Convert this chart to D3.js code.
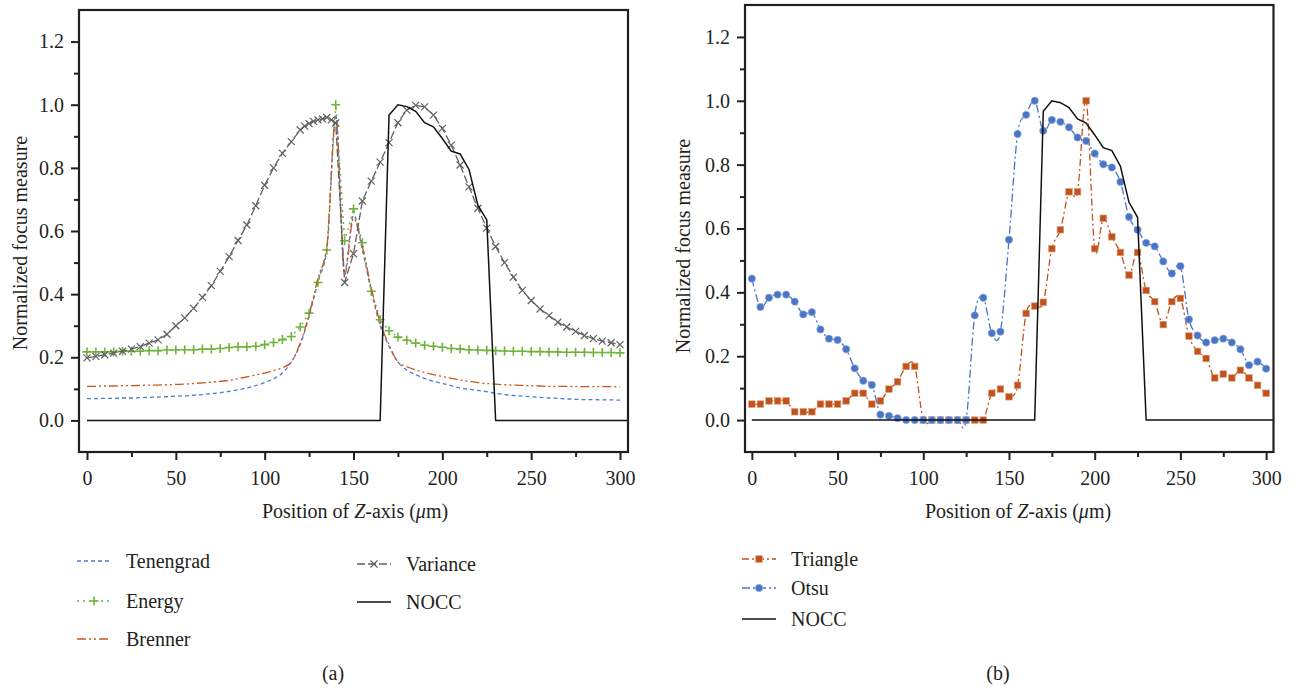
<!DOCTYPE html>
<html>
<head>
<meta charset="utf-8">
<script src="https://cdn.jsdelivr.net/npm/d3@7"></script>
<style>
  body { margin: 0; background: #fff; }
  svg { display: block; font-family: "Liberation Serif", "DejaVu Serif", serif; }
</style>
</head>
<body>
<svg id="viz" width="1295" height="688"></svg>
<script>
const svg = d3.select("#viz");

// sampling positions along the Z axis (um)
const zPos = [0,5,10,15,20,25,30,35,40,45,50,55,60,65,70,75,80,85,90,95,100,
  105,110,115,120,125,130,135,140,145,150,155,160,165,170,175,180,185,190,195,200,
  205,210,215,220,225,230,235,240,245,250,255,260,265,270,275,280,285,290,295,300];

const tenengrad = [0.069,0.069,0.070,0.070,0.071,0.071,0.072,0.073,0.074,0.075,0.077,
  0.078,0.080,0.082,0.085,0.088,0.092,0.097,0.103,0.110,0.120,
  0.132,0.150,0.185,0.240,0.330,0.440,0.540,0.970,0.470,0.650,
  0.540,0.410,0.300,0.235,0.185,0.160,0.145,0.133,0.124,0.117,
  0.110,0.102,0.099,0.095,0.091,0.086,0.082,0.079,0.077,0.075,
  0.073,0.071,0.070,0.068,0.067,0.066,0.066,0.065,0.065,0.064];

const energy = [0.217,0.217,0.217,0.217,0.219,0.219,0.219,0.221,0.221,0.223,0.223,
  0.224,0.224,0.226,0.226,0.228,0.231,0.233,0.233,0.235,0.240,
  0.247,0.256,0.266,0.296,0.340,0.437,0.540,1.000,0.569,0.670,
  0.563,0.409,0.319,0.284,0.264,0.254,0.245,0.238,0.235,0.232,
  0.228,0.226,0.224,0.223,0.222,0.221,0.220,0.219,0.219,0.218,
  0.218,0.217,0.217,0.216,0.216,0.216,0.215,0.215,0.215,0.214];

const brenner = [0.108,0.108,0.109,0.109,0.110,0.110,0.111,0.112,0.112,0.113,0.114,
  0.115,0.117,0.119,0.121,0.124,0.127,0.132,0.138,0.144,0.150,
  0.158,0.167,0.185,0.245,0.335,0.450,0.550,0.960,0.460,0.640,
  0.550,0.420,0.310,0.240,0.185,0.170,0.160,0.152,0.145,0.139,
  0.133,0.128,0.124,0.120,0.117,0.115,0.113,0.112,0.111,0.110,
  0.109,0.108,0.108,0.108,0.107,0.107,0.107,0.107,0.107,0.106];

// variance was sampled more densely near the first peak
const varPos = [0,5,10,15,20,25,30,35,40,45,50,55,60,65,70,75,80,85,90,95,100,
  105,110,115,120,122.5,125,127.5,130,132.5,135,137.5,140,145,150,155,160,165,170,175,180,
  185,190,195,200,205,210,215,220,225,230,235,240,245,250,255,260,265,270,275,280,
  285,290,295,300];
const variance = [0.198,0.203,0.208,0.213,0.219,0.226,0.234,0.245,0.255,0.273,0.300,
  0.325,0.355,0.390,0.427,0.472,0.519,0.570,0.619,0.680,0.745,
  0.800,0.846,0.883,0.920,0.932,0.940,0.947,0.952,0.955,0.960,0.952,0.942,0.437,0.528,
  0.695,0.758,0.818,0.880,0.943,0.983,
  0.998,0.993,0.967,0.925,0.872,0.809,0.740,0.672,0.609,0.551,
  0.500,0.454,0.412,0.380,0.353,0.332,0.311,0.296,0.282,0.269,
  0.259,0.251,0.246,0.240];

const noccPos = [0,5,10,15,20,25,30,35,40,45,50,55,60,65,70,75,80,85,90,95,100,
  105,110,115,120,125,130,135,140,145,150,155,160,165,170,175,180,185,190,195,200,
  205,210,215,220,225,230,235,240,245,250,255,260,265,270,275,280,285,290,295,300,305];
const nocc = [0,0,0,0,0,0,0,0,0,0,0,
  0,0,0,0,0,0,0,0,0,0,
  0,0,0,0,0,0,0,0,0,0,
  0,0,0,0.967,1.000,0.994,0.979,0.943,0.930,0.893,
  0.853,0.844,0.795,0.682,0.635,0,0,0,0,0,
  0,0,0,0,0,0,0,0,0,0,0];

const triangle = [0.050,0.050,0.060,0.060,0.060,0.026,0.026,0.026,0.050,0.050,0.050,
  0.060,0.084,0.084,0.050,0.060,0.097,0.120,0.168,0.168,0,
  0,0,0,0,0,0,0,0.084,0.097,0.073,
  0.109,0.334,0.357,0.369,0.537,0.596,0.715,0.715,1.000,0.537,
  0.632,0.574,0.525,0.454,0.525,0.406,0.371,0.299,0.371,0.381,
  0.263,0.215,0.193,0.132,0.144,0.132,0.156,0.132,0.109,0.084];

const otsu = [0.443,0.354,0.383,0.393,0.393,0.371,0.331,0.338,0.284,0.255,0.251,
  0.222,0.162,0.123,0.110,0.017,0.013,0.006,0,0,0,
  0,0,0,0,0,0.328,0.383,0.272,0.277,0.565,
  0.896,0.956,1.000,0.906,0.940,0.934,0.917,0.885,0.874,0.835,
  0.801,0.791,0.746,0.636,0.596,0.555,0.544,0.497,0.459,0.482,
  0.315,0.265,0.243,0.250,0.255,0.243,0.222,0.172,0.183,0.161];

const xTicks = [0, 50, 100, 150, 200, 250, 300];
const xMinor = [25, 75, 125, 175, 225, 275];
const yTicks = [0.0, 0.2, 0.4, 0.6, 0.8, 1.0, 1.2];
const yMinor = [0.1, 0.3, 0.5, 0.7, 0.9, 1.1];

const ink = "#231f20";

const styles = {
  Tenengrad: { color: "#4c7bd0", dash: "4,3", width: 1.3, curve: d3.curveMonotoneX },
  Energy:    { color: "#6fb43a", dash: "2,4", width: 1.4, curve: d3.curveLinear, marker: "plus" },
  Brenner:   { color: "#cc5520", dash: "9,3,2,3,2,3", width: 1.3, curve: d3.curveMonotoneX },
  Variance:  { color: "#606060", dash: "8,3", width: 1.3, curve: d3.curveLinear, marker: "cross" },
  NOCC:      { color: "#111", dash: null, width: 1.5, curve: d3.curveLinear },
  Triangle:  { color: "#c0531c", dash: "7,3,2,3", width: 1.3, curve: d3.curveCardinal.tension(0), marker: "square" },
  Otsu:      { color: "#4a74c6", dash: "8,3,2,3", width: 1.3, curve: d3.curveCardinal.tension(0), marker: "circle" }
};

function drawMarker(g, kind, color, cx, cy) {
  if (kind === "plus") {
    g.append("path").attr("d", `M${cx - 4.5},${cy}H${cx + 4.5}M${cx},${cy - 4.5}V${cy + 4.5}`)
      .attr("stroke", color).attr("stroke-width", 1.6).attr("fill", "none");
  } else if (kind === "cross") {
    g.append("path").attr("d", `M${cx - 3.5},${cy - 3.5}L${cx + 3.5},${cy + 3.5}M${cx - 3.5},${cy + 3.5}L${cx + 3.5},${cy - 3.5}`)
      .attr("stroke", color).attr("stroke-width", 1.2).attr("fill", "none");
  } else if (kind === "square") {
    g.append("rect").attr("x", cx - 3.3).attr("y", cy - 3.3).attr("width", 6.6).attr("height", 6.6)
      .attr("fill", color).attr("stroke", "#e0a080").attr("stroke-width", 0.6);
  } else if (kind === "circle") {
    g.append("circle").attr("cx", cx).attr("cy", cy).attr("r", 3.7)
      .attr("fill", color).attr("stroke", "#9db3e0").attr("stroke-width", 0.6);
  }
}

function drawPanel(p) {
  const x = d3.scaleLinear().domain(p.xDomain).range([p.left, p.right]);
  const y = d3.scaleLinear().domain([-0.1, 1.3]).range([p.bottom, p.top]);
  const g = svg.append("g");

  g.append("clipPath").attr("id", p.id + "-clip")
    .append("rect").attr("x", p.left).attr("y", p.top)
    .attr("width", p.right - p.left).attr("height", p.bottom - p.top);

  const plot = g.append("g").attr("clip-path", `url(#${p.id}-clip)`);

  p.series.forEach(s => {
    const st = styles[s.name];
    const pts = s.pos.map((v, i) => [v, s.values[i]]);
    const line = d3.line().x(d => x(d[0])).y(d => y(d[1])).curve(st.curve);
    plot.append("path").datum(pts)
      .attr("d", line)
      .attr("fill", "none")
      .attr("stroke", st.color)
      .attr("stroke-width", st.width)
      .attr("stroke-dasharray", st.dash);
    if (st.marker) {
      const mg = plot.append("g");
      pts.forEach(d => drawMarker(mg, st.marker, st.color, x(d[0]), y(d[1])));
    }
  });

  // axes
  const xAxis = g.append("g").attr("transform", `translate(0,${p.bottom})`)
    .call(d3.axisBottom(x).tickValues(xTicks).tickSize(8).tickPadding(11).tickFormat(d3.format("d")));
  g.append("g").attr("transform", `translate(0,${p.bottom})`)
    .call(d3.axisBottom(x).tickValues(xMinor).tickSize(5).tickFormat(""));
  const yAxis = g.append("g").attr("transform", `translate(${p.left},0)`)
    .call(d3.axisLeft(y).tickValues(yTicks).tickSize(8).tickPadding(7).tickFormat(d3.format(".1f")));
  g.append("g").attr("transform", `translate(${p.left},0)`)
    .call(d3.axisLeft(y).tickValues(yMinor).tickSize(5).tickFormat(""));

  g.selectAll(".domain").remove();
  g.selectAll(".tick line").attr("stroke", ink).attr("stroke-width", 2);
  g.selectAll(".tick text").attr("fill", ink).attr("font-size", 20)
    .attr("font-family", "Liberation Serif, DejaVu Serif, serif");

  g.append("rect")
    .attr("x", p.left).attr("y", p.top)
    .attr("width", p.right - p.left).attr("height", p.bottom - p.top)
    .attr("fill", "none").attr("stroke", ink).attr("stroke-width", 2.2);

  // axis titles
  g.append("text")
    .attr("transform", `translate(${p.yTitleX},${p.yTitleY}) rotate(-90)`)
    .attr("text-anchor", "middle").attr("dy", "0.35em")
    .attr("font-size", 20).attr("fill", ink)
    .text("Normalized focus measure");

  const xt = g.append("text")
    .attr("x", p.xTitleX).attr("y", 518)
    .attr("text-anchor", "middle").attr("font-size", 20).attr("fill", ink);
  xt.append("tspan").text("Position of ");
  xt.append("tspan").attr("font-style", "italic").text("Z");
  xt.append("tspan").text("-axis (");
  xt.append("tspan").attr("font-style", "italic").text("\u03bc");
  xt.append("tspan").text("m)");

  // legend
  p.legend.forEach(l => {
    const st = styles[l.name];
    g.append("line")
      .attr("x1", l.x).attr("x2", l.x + 34).attr("y1", l.y).attr("y2", l.y)
      .attr("stroke", st.color).attr("stroke-width", st.width)
      .attr("stroke-dasharray", st.dash);
    if (st.marker) drawMarker(g, st.marker, st.color, l.x + 17, l.y);
    g.append("text")
      .attr("x", l.x + 49).attr("y", l.y).attr("dy", "0.33em")
      .attr("font-size", 20).attr("fill", ink)
      .text(l.name);
  });

  g.append("text")
    .attr("x", p.tagX).attr("y", 673).attr("dy", "0.33em")
    .attr("text-anchor", "middle").attr("font-size", 20).attr("fill", ink)
    .text(p.tag);
}

drawPanel({
  id: "a",
  left: 79, right: 628, top: 10, bottom: 452,
  xDomain: [-4.5, 304.5],
  yTitleX: 20, yTitleY: 243,
  xTitleX: 355,
  tag: "(a)", tagX: 333,
  series: [
    { name: "Tenengrad", pos: zPos, values: tenengrad },
    { name: "Energy", pos: zPos, values: energy },
    { name: "Brenner", pos: zPos, values: brenner },
    { name: "Variance", pos: varPos, values: variance },
    { name: "NOCC", pos: noccPos, values: nocc }
  ],
  legend: [
    { name: "Tenengrad", x: 77, y: 561 },
    { name: "Energy", x: 77, y: 601 },
    { name: "Brenner", x: 77, y: 639 },
    { name: "Variance", x: 357, y: 564 },
    { name: "NOCC", x: 357, y: 602 }
  ]
});

drawPanel({
  id: "b",
  left: 745, right: 1273.5, top: 5, bottom: 452,
  xDomain: [-4, 304.3],
  yTitleX: 683, yTitleY: 246,
  xTitleX: 1018,
  tag: "(b)", tagX: 998,
  series: [
    { name: "Triangle", pos: zPos, values: triangle },
    { name: "Otsu", pos: zPos, values: otsu },
    { name: "NOCC", pos: noccPos, values: nocc }
  ],
  legend: [
    { name: "Triangle", x: 742, y: 559 },
    { name: "Otsu", x: 742, y: 588 },
    { name: "NOCC", x: 742, y: 619 }
  ]
});
</script>
</body>
</html>
